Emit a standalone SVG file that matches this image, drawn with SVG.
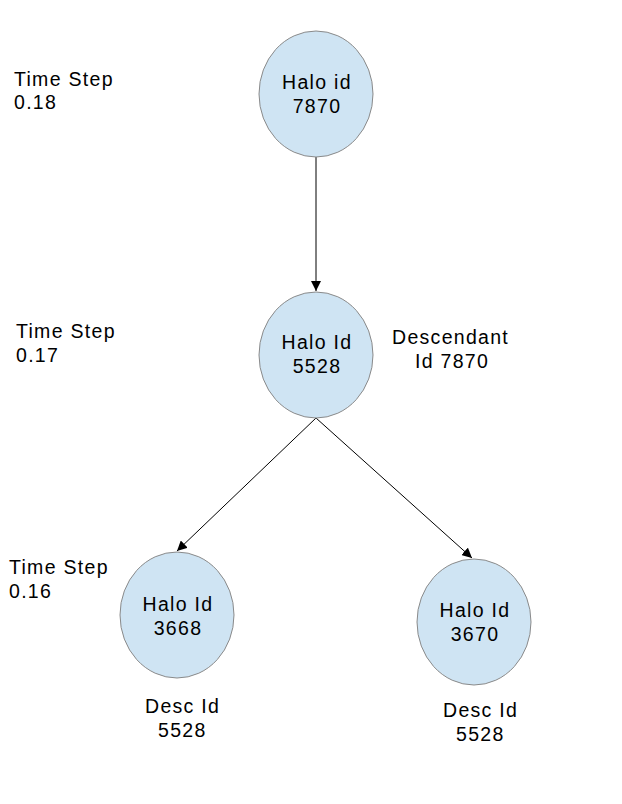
<svg xmlns="http://www.w3.org/2000/svg" width="622" height="804" viewBox="0 0 622 804">
<defs>
<style>
.n{fill:#cfe4f3;stroke:#8a8a8a;stroke-width:1}
text{font-family:"Liberation Sans",Arial,sans-serif;font-size:19.5px;letter-spacing:1.3px;fill:#000}
.c{text-anchor:middle}
.e{stroke:#000;stroke-width:1;fill:none;marker-end:url(#a)}
</style>
<marker id="a" viewBox="0 0 10 10" refX="10" refY="5" markerWidth="10" markerHeight="10" markerUnits="userSpaceOnUse" orient="auto"><path d="M0,0 L10,5 L0,10 z" fill="#000"/></marker>
</defs>
<rect width="622" height="804" fill="#fff"/>
<g id="connectors">
<line class="e" x1="316" y1="157" x2="316" y2="291"/>
<line class="e" x1="316" y1="418" x2="177" y2="551"/>
<line class="e" x1="316" y1="418" x2="472" y2="558"/>
</g>
<g id="n7870"><ellipse class="n" cx="316" cy="94" rx="57" ry="63"/><text class="c" x="317" y="89">Halo id</text><text class="c" x="317" y="113">7870</text></g>
<g id="n5528"><ellipse class="n" cx="316" cy="355" rx="57" ry="63"/><text class="c" x="317" y="349">Halo Id</text><text class="c" x="317" y="373">5528</text></g>
<g id="n3668"><ellipse class="n" cx="177" cy="615" rx="57" ry="63"/><text class="c" x="178" y="611">Halo Id</text><text class="c" x="178" y="635">3668</text></g>
<g id="n3670"><ellipse class="n" cx="474" cy="622" rx="57" ry="63"/><text class="c" x="475" y="617">Halo Id</text><text class="c" x="475" y="641">3670</text></g>
<g id="labels">
<text x="14" y="86">Time Step</text><text x="14" y="109">0.18</text>
<text x="16" y="338">Time Step</text><text x="16" y="362">0.17</text>
<text x="9" y="574">Time Step</text><text x="9" y="598">0.16</text>
<text x="392" y="344">Descendant</text><text x="415" y="368">Id 7870</text>
<text x="145" y="713">Desc Id</text><text x="158" y="737">5528</text>
<text x="443" y="717">Desc Id</text><text x="456" y="741">5528</text>
</g>
</svg>
